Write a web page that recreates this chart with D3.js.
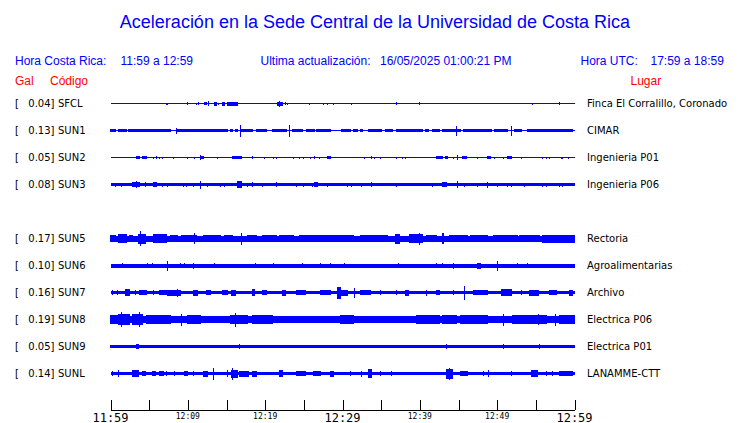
<!DOCTYPE html>
<html><head><meta charset="utf-8">
<script src="https://cdn.jsdelivr.net/npm/d3@7/dist/d3.min.js"></script>
<style>body{margin:0;background:#fff}svg{display:block}</style>
</head><body>
<script>
// ---- data ----
const codes  = ["SFCL","SUN1","SUN2","SUN3","SUN5","SUN6","SUN7","SUN8","SUN9","SUNL"];
const places = ["Finca El Corralillo, Coronado","CIMAR","Ingenieria P01","Ingenieria P06","Rectoria","Agroalimentarias","Archivo","Electrica P06","Electrica P01","LANAMME-CTT"];
const gal    = [0.04,0.13,0.05,0.08,0.17,0.10,0.16,0.19,0.05,0.14];
const slots  = [0,1,2,3,5,6,7,8,9,10];           // SUN4 row is empty
const baseAmp = [0.5,0.6,0.5,1.5,3.0,2.0,1.7,3.2,1.4,1.5];
// bursts: [startMinute, endMinute, halfAmplitude] minutes after 11:59
const bursts = [
 [[7.2,7.4,1],[10.0,10.0,1.5],[11.1,11.1,1],[11.4,11.4,1.5],[12.1,12.35,1.5],[12.7,12.7,2.5],[13.4,13.65,2],[14.0,14.0,1],[14.5,14.8,2],[15.1,16.4,2],[21.6,22.2,2],[21.8,21.8,3],[22.6,22.6,1.5],[22.95,22.95,1],[25.7,25.7,1],[27.6,27.6,1],[28.1,28.1,1],[28.8,28.8,1],[31.2,31.2,1],[37.0,37.0,1.5],[39.9,39.9,1.5],[54.6,54.6,1],[58.0,58.0,1.5]],
 [[0,0.6,1.5],[1.0,1.5,1.5],[1.7,2.1,1.5],[2.3,3.2,1.5],[3.4,5.4,1.5],[5.6,7.8,1.5],[8.5,8.5,3],[8.7,13.8,1.5],[14.0,15.1,1.5],[15.5,15.8,1.5],[16.1,16.4,1.5],[16.8,16.8,6],[17.0,18.4,1.5],[18.9,20.2,1.5],[21.0,22.8,1.5],[23.1,23.1,6],[23.5,24.8,1.5],[25.4,26.4,1.5],[26.7,28.4,1.5],[29.9,31.0,1.5],[31.4,31.9,1.5],[32.3,32.65,1.5],[33.4,35.1,1.5],[35.5,36.5,1.5],[37.0,40.3,1.5],[40.7,41.1,1.5],[41.6,42.6,1.5],[42.9,44.2,1.5],[44.3,45.2,1.5],[44.7,44.7,5],[45.6,49.3,1.5],[49.7,51.3,1.5],[51.9,51.9,5],[52.3,53.2,1.5],[53.9,59.8,1.5]],
 [[3.3,3.7,1.5],[4.2,4.6,1.5],[5.5,5.5,1],[5.9,5.9,1.2],[6.3,6.3,1],[6.7,6.7,1],[8.1,8.1,1],[10.0,10.0,1],[10.9,10.9,1],[11.6,12.0,1.5],[11.6,11.6,2.5],[13.8,13.8,1],[15.8,16.9,1.5],[18.3,18.4,1.5],[19.85,19.85,1],[21.1,21.1,1],[21.5,21.5,1],[23.6,23.6,1],[24.4,24.4,1],[24.9,24.9,1],[25.9,25.9,1],[26.4,26.4,1.5],[27.0,27.0,1],[28.1,28.5,1.5],[32.9,32.9,1],[33.8,33.8,1.2],[34.2,34.2,1],[34.9,34.9,1],[37.0,37.0,1],[37.8,37.8,1],[38.2,38.2,1],[42.2,42.9,1.5],[43.3,43.6,1.5],[44.3,44.3,1],[44.9,44.9,2.5],[45.5,46.0,1.5],[47.5,47.5,1],[48.7,49.2,1.5],[49.6,49.6,1],[50.8,50.8,1],[51.4,51.9,1.2],[53.2,53.2,1],[55.8,55.8,1],[56.4,56.4,1],[56.8,56.8,1],[58.3,58.5,1],[59.2,59.2,1]],
 [[0.6,0.6,2],[1.4,1.4,2],[2.9,3.7,2.5],[3.4,3.4,3.5],[4.5,4.5,2.5],[5.5,6.0,2.5],[6.7,6.7,2],[7.4,7.4,2],[9.4,9.4,2],[9.8,9.8,2],[10.7,10.7,2],[11.6,11.6,4],[12.5,12.5,2],[14.2,14.2,2],[14.8,14.8,2],[16.4,16.9,3.5],[17.7,17.7,2],[18.3,18.3,2.5],[19.6,19.6,2],[21.5,21.5,2.5],[24.0,24.0,2],[24.9,24.9,2],[26.1,26.1,2],[26.4,26.8,2.5],[28.0,28.0,2],[30.6,30.6,2],[31.2,31.2,2],[32.5,32.5,2],[33.8,33.8,2.5],[37.0,37.0,2],[41.7,41.7,2],[42.9,43.5,2.5],[44.9,44.9,3.5],[45.8,45.8,2],[47.4,47.4,2],[48.7,48.7,3],[50.1,50.1,2],[51.3,51.3,2],[51.9,51.9,2],[53.5,53.5,2],[55.8,55.8,2],[56.4,56.4,2],[58.1,58.1,2],[58.5,58.5,2]],
 [[0,0.6,3.5],[1.0,2.1,4.2],[2.5,2.9,3.6],[3.6,4.5,5],[3.9,3.9,7.5],[5.5,7.3,4.3],[7.7,8.6,3.6],[9.2,11.1,3.9],[10.9,10.9,5.5],[12.0,14.2,3.3],[14.8,15.8,3.6],[17.0,17.0,6],[17.7,18.9,3.6],[19.7,21.5,3.6],[21.9,23.6,3.9],[24.5,29.7,3.3],[29.7,31.4,3.6],[32.3,33.8,3.6],[33.9,35.8,3.6],[36.8,37.4,5],[38.7,40.3,4.3],[39.9,39.9,6],[40.9,42.2,3.6],[42.9,43.0,5.5],[43.9,46.1,3.6],[46.5,48.7,3.6],[49.5,52.6,3.3],[52.9,55.5,3.1],[55.9,60,4]],
 [[1.5,1.5,2.5],[4.8,4.8,2.5],[5.4,5.4,2.5],[7.4,7.4,5],[9.0,9.0,2.5],[9.6,9.6,2.5],[10.7,10.7,3],[13.5,13.5,2.5],[18.7,18.7,2.5],[21.1,21.1,2.5],[24.8,24.8,2.5],[27.1,27.1,2.5],[28.4,28.4,2.5],[30.2,30.2,2.5],[37.3,37.3,2.5],[42.2,42.2,2.5],[42.9,42.9,2.5],[44.3,44.3,3],[47.4,47.8,3],[50.0,50.0,5],[52.6,52.6,2.5],[53.9,53.9,2.5]],
 [[0.2,0.2,2.5],[0.9,0.9,2.5],[2.0,2.5,3.5],[3.2,3.2,2.5],[3.8,4.7,2.5],[5.5,5.5,2.5],[6.4,7.3,2.5],[7.4,9.0,3],[8.7,8.7,4],[10.7,11.2,3],[12.35,12.9,2.5],[14.5,15.1,2.5],[15.7,16.1,3],[18.3,18.6,3.5],[19.7,20.2,2.5],[22.3,22.6,3],[24.1,25.2,2.5],[27.1,28.4,2.5],[29.3,29.7,6],[29.7,30.6,3],[31.6,31.6,5],[32.3,33.6,2.5],[34.9,34.9,2.5],[37.0,37.0,2.5],[38.1,38.5,3],[40.9,40.9,3],[42.2,42.6,2.5],[44.3,44.3,2.5],[45.8,45.8,7],[46.9,48.7,2.5],[50.6,51.9,3.5],[53.2,53.2,2.5],[54.2,55.3,3],[56.8,57.7,2.5],[59.4,59.8,3]],
 [[0,0.9,4.2],[1.0,2.5,5.2],[1.4,1.4,7.5],[2.8,4.2,5.5],[3.8,3.8,7.5],[4.7,7.7,4.2],[9.2,9.2,6],[9.9,11.6,4.1],[12.0,14.2,3.8],[15.5,17.7,4.8],[16.2,16.2,7],[18.4,21.0,4.4],[22.3,29.7,3.8],[29.7,31.4,4.1],[33.9,38.3,3.8],[39.6,42.6,4.1],[42.9,44.8,4.5],[45.2,48.7,4.1],[50.8,50.8,6],[52.0,56.4,4.1],[55.4,55.4,5.5],[57.6,57.6,6],[58.1,60,4.2]],
 [[0,0.9,1.8],[3.4,3.6,2.5],[7.7,9.0,1.8],[12.0,13.5,1.8],[15.8,16.7,1.8],[16.7,16.7,2.5],[20.2,21.0,1.8],[24.5,29.7,1.8],[30.6,31.9,1.8],[33.9,36.1,1.8],[36.8,39.6,1.8],[43.5,43.5,2.5],[50.8,50.8,2.5],[55.5,55.5,2.5],[56.8,59.8,1.8]],
 [[0.2,0.2,2.5],[1.0,1.0,3.5],[2.8,3.6,3.5],[4.2,4.5,2.5],[5.4,5.8,2.5],[6.4,6.8,2.5],[7.3,7.3,2.5],[8.3,8.3,2.5],[9.6,10.0,2.5],[10.7,10.7,2.5],[12.0,12.5,3],[13.3,13.3,6],[15.1,15.1,3.5],[15.7,16.4,4],[15.8,15.8,6],[16.7,17.8,3],[18.4,18.9,3],[21.9,22.3,3.5],[24.1,25.2,2.5],[26.2,27.1,2.5],[28.4,28.8,3],[31.0,31.0,2.5],[32.5,32.5,3],[33.4,33.8,4.5],[34.9,34.9,2.5],[36.4,36.4,2.5],[43.5,44.2,5],[43.9,43.9,6],[45.2,46.1,2.5],[48.2,48.2,2.5],[48.9,48.9,3.5],[51.9,51.9,2.5],[54.5,55.2,3.5],[56.4,56.4,2.5],[57.2,57.2,2.5],[58.1,59.8,2.5]]
];
const tickMinutes = d3.range(0, 61, 5);
const bigLabels   = [0, 30, 60];
const smallLabels = [10, 20, 40, 50];
const title = "Aceleración en la Sede Central de la Universidad de Costa Rica";
const headerLeft  = ["Hora Costa Rica:", "11:59 a 12:59"];
const headerMid   = ["Ultima actualización:", "16/05/2025 01:00:21 PM"];
const headerRight = ["Hora UTC:", "17:59 a 18:59"];

// ---- drawing ----
const W = 740, H = 423;
const BLUE = "#0000ff", RED = "#ff0000";
const svg = d3.select("body").append("svg").attr("width", W).attr("height", H);

const t0 = new Date(2025, 4, 16, 11, 59);
const tm = m => new Date(t0.getTime() + m * 60000);
const x = d3.scaleTime().domain([tm(0), tm(60)]).range([110.5, 574.5]);
const yRow = d3.scaleLinear().domain([0, 10]).range([103.5, 373.5]);
const amp = d3.scaleLinear().domain([0, 1]).range([0, 1]);

const sans = "'Liberation Sans', Arial, sans-serif";
const dj = "'DejaVu Sans', sans-serif";
const mono = "'DejaVu Sans Mono', monospace";

svg.append("text").attr("x", 375).attr("y", 28).attr("text-anchor", "middle")
  .attr("font-family", sans).attr("font-size", 18).attr("fill", BLUE).text(title);

const hdr = (txt, xx) => svg.append("text").attr("x", xx).attr("y", 65)
  .attr("font-family", sans).attr("font-size", 12).attr("fill", BLUE).text(txt);
hdr(headerLeft[0], 15); hdr(headerLeft[1], 120.5);
hdr(headerMid[0], 260.5); hdr(headerMid[1], 380);
hdr(headerRight[0], 580.5); hdr(headerRight[1], 650.5);

const red = (txt, xx) => svg.append("text").attr("x", xx).attr("y", 85)
  .attr("font-family", sans).attr("font-size", 12).attr("fill", RED).text(txt);
red("Gal", 15); red("Código", 50); red("Lugar", 630.5);

// rows
codes.forEach((c, i) => {
  const cy = yRow(slots[i]);
  const g = svg.append("g");
  const ty = cy + 3.8;
  g.append("text").attr("x", 15).attr("y", ty).attr("font-family", dj).attr("font-size", 10).text("[");
  g.append("text").attr("x", 54.5).attr("y", ty).attr("text-anchor", "end").attr("font-family", dj).attr("font-size", 10).text(gal[i].toFixed(2) + "]");
  g.append("text").attr("x", 58).attr("y", ty).attr("font-family", dj).attr("font-size", 10).text(c);
  g.append("text").attr("x", 587).attr("y", ty).attr("font-family", dj).attr("font-size", 10).text(places[i]);

  const tr = g.append("g").attr("fill", BLUE).attr("shape-rendering", "crispEdges");
  tr.append("rect").attr("x", x(tm(0))).attr("width", x(tm(60)) - x(tm(0)))
    .attr("y", cy - amp(baseAmp[i])).attr("height", 2 * amp(baseAmp[i]));
  tr.selectAll("rect.b").data(bursts[i]).join("rect").attr("class", "b")
    .attr("x", d => x(tm(d[0])) - 0.5)
    .attr("width", d => Math.max(1, x(tm(d[1])) - x(tm(d[0])) + 1))
    .attr("y", d => cy - amp(d[2]))
    .attr("height", d => 2 * amp(d[2]));
});

// time axis
const fmt = d3.timeFormat("%H:%M");
const axisY = 409.5;
const ag = svg.append("g").attr("transform", `translate(0,${axisY})`);
ag.call(d3.axisBottom(x).tickValues(tickMinutes.map(tm)).tickSize(0).tickFormat(""));
ag.select(".domain").attr("stroke", "#000").attr("shape-rendering", "crispEdges");
ag.selectAll(".tick line").remove();
ag.selectAll(".tick").append("line").attr("y1", 0).attr("y2", -9.5)
  .attr("stroke", "#000").attr("shape-rendering", "crispEdges");
ag.selectAll(".tick text").remove();
ag.selectAll(".lbl").data(bigLabels).join("text").attr("class", "lbl")
  .attr("x", d => x(tm(d))).attr("y", 12).attr("text-anchor", "middle")
  .attr("font-family", mono).attr("font-size", 12).attr("fill", "#000").text(d => fmt(tm(d)));
ag.selectAll(".sl").data(smallLabels).join("text").attr("class", "sl")
  .attr("x", d => x(tm(d))).attr("y", 9).attr("text-anchor", "middle")
  .attr("font-family", mono).attr("font-size", 8).attr("fill", "#000").text(d => fmt(tm(d)));
</script>
</body></html>
